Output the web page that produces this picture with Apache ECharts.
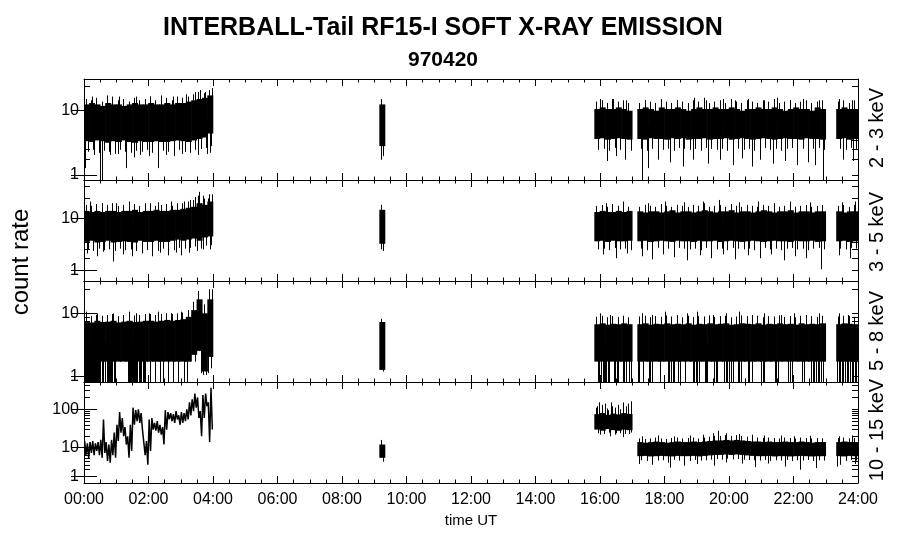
<!DOCTYPE html>
<html><head><meta charset="utf-8">
<script src="https://cdn.jsdelivr.net/npm/echarts@6/dist/echarts.min.js"></script>
<style>html,body{margin:0;padding:0;background:#fff}#c{width:900px;height:548px}</style>
</head><body><div id="c"></div>
<script>
const hourTicks = ['00:00','02:00','04:00','06:00','08:00','10:00','12:00','14:00','16:00','18:00','20:00','22:00','24:00'];
const panelNames = ['2 - 3 keV','3 - 5 keV','5 - 8 keV','10 - 15 keV'];
const titleText = 'INTERBALL-Tail RF15-I SOFT X-RAY EMISSION';
const dateText = '970420';
const majorLabels = [[1,10],[1,10],[1,10],[1,10,100]];

// Data coverage, in 10-minute bins (bin b = b*10 min .. (b+1)*10 min)
const binSegs = [[0,24],[55,56],[95,102],[103,138],[140,144]];
const binSegsP4 = [[55,56],[95,102],[103,138],[140,144]];

// For every covered bin: Hi/Lo = solid core of the dense trace, Up/Dn = reach of the fringe
const p1Hi = [12,12.5,12,11.5,12.5,12, 12,11.5,12,12.5,12,12, 12.5,12,12,12.5,12,12.5, 12.5,13,13.5,14,14.5,15.5,
  12,
  10.5,11,10.5,10.5,11,10.5,10,
  10.5,11,10.5,10,11,10.5,10.5, 11,10.5,10,10.5,11,10.5,10.5, 11,10.5,10.5,11,10.5,10,10.5, 10.5,11,10.5,10.5,11,10.5,10, 10.5,11,10.5,10.5,10,11,10.5,
  10.5,11,10.5,10.5];
const p1Lo = [3.9,3.8,4,3.9,3.7,3.9, 3.8,4,3.8,3.7,3.9,3.8, 3.8,3.9,3.8,3.8,3.9,4, 3.9,3.8,4,4.2,4.4,5,
  3.3,
  4.2,4.3,4.1,4.2,4.3,4.2,4.1,
  4.2,4.1,4.3,4.2,4.2,4.1,4.3, 4.2,4.3,4.1,4.2,4.2,4.3,4.1, 4.2,4.2,4.3,4.1,4.2,4.3,4.2, 4.1,4.2,4.3,4.2,4.1,4.2,4.3, 4.2,4.2,4.1,4.3,4.2,4.2,4.1,
  4.2,4.3,4.1,4.2];
const p1Up = [14,13.5,14.5,13,14,15, 13.5,14,13,14.5,13.5,14, 15,13.5,14,14.5,13.5,15, 14.5,15,16,17,16.5,18,
  14,
  13,13.5,12.5,14,13,13.5,12.5,
  12.5,13.5,13,12.5,14,13,12.5, 13.5,13,12.5,13.5,13,14.5,12.5, 13,13.5,12.5,14,13,12.5,13.5, 13,12.5,13.5,13,14,12.5,13, 13.5,12.5,13,13.5,12.5,13,13.5,
  13,13.5,12.5,13.5];
const p1Dn = [2.7,2.9,2.6,2.8,2.7,2.5, 2.9,2.7,2.6,2.8,2.7,2.9, 2.6,2.7,2.8,2.7,2.6,2.9, 2.7,2.8,2.9,3,3.1,3.3,
  2.3,
  2.9,3,2.8,3.1,2.9,3,2.8,
  3,2.8,3,3.1,2.9,3,2.8, 3.1,3,2.9,3,2.8,3.1,3, 2.9,3,2.8,3.1,3,2.9,3, 2.8,3,3.1,2.9,3,2.8,3, 3.1,2.9,3,2.8,3,3.1,2.9,
  3,2.9,3.1,3];
// isolated spikes [hour, count rate]
const p1Spikes = [[0.03,1.4],[0.3,2.4],[0.5,0.5],[0.57,0.5],[0.8,2.4],[1.05,2.5],[1.3,1.4],[1.55,2.2],[1.75,2.4],[2.0,2.3],[2.3,1.4],[2.55,2.4],[2.8,2.3],[3.05,2.5],[3.3,2.6],[3.55,2.4],[3.8,2.5],[3.92,2.6],
  [0.25,15],[0.7,15.5],[1.1,15],[1.6,15],[2.05,15],[2.4,15.5],[2.75,15],[3.15,16],[3.45,17],[3.6,18],[3.75,17],[3.98,19],
  [9.22,2.0],
  [16.21,1.9],[16.5,2.3],[16.78,2.0],[17.14,2.2],[17.29,0.5],[17.5,1.4],[17.81,2.0],[18.17,1.8],[18.58,1.5],[18.89,2.0],[19.36,1.7],[19.72,2.0],[20.13,1.6],[20.39,2.1],[20.7,1.5],[20.96,2.0],[21.37,1.7],[21.74,1.9],[22.1,1.6],[22.46,1.8],[22.67,1.6],[22.92,0.5],[23.54,2.0],[23.85,1.9],
  [16.0,14],[16.4,14],[16.8,13.5],[17.4,13.5],[17.9,14],[18.4,13.5],[18.9,14.5],[19.3,13.5],[19.8,14],[20.2,13.5],[20.6,14],[21.1,13.5],[21.5,14.5],[21.9,13.5],[22.3,14],[22.8,13.5],[23.4,14],[23.8,13.5]];

const p2Hi = [13,12.5,13,12.5,13,13, 12.5,13,13,13.5,12.5,13, 13,13.5,13,13,13.5,13.5, 14,14.5,15,17,16,18,
  13.5,
  12.5,13,12.5,12.5,13,12.5,13,
  12.8,12.3,12.8,12.8,12.3,12.8,13.3, 12.3,12.8,12.8,12.3,12.8,13.3,12.8, 12.3,12.8,12.8,13.3,12.3,12.8,12.8, 12.3,12.8,13.3,12.8,12.3,12.8,12.8, 13.3,12.3,12.8,12.8,12.3,12.8,12.8,
  12.8,12.3,12.8,12.8];
const p2Lo = [4.1,4.3,4,4.1,4.3,4, 4.1,4.2,4.1,4,4.3,4.1, 4.1,4.3,4.1,4.1,4.3,4.5, 4.3,4.5,4.7,4.3,4.9,5.1,
  3.8,
  4.2,4.3,4.1,4.3,4.2,4.2,4.3,
  4.2,4.3,4.1,4.2,4.3,4.2,4.1, 4.3,4.2,4.2,4.1,4.3,4.2,4.2, 4.3,4.1,4.2,4.3,4.2,4.1,4.2, 4.3,4.2,4.1,4.2,4.3,4.2,4.2, 4.1,4.3,4.2,4.2,4.3,4.1,4.2,
  4.2,4.3,4.1,4.2];
const p2Up = [16,15.5,16.5,15,16,17, 15.5,16,15,16.5,15.5,16, 17,15.5,16,16.5,15.5,17, 17,18,19,22,20,23,
  16,
  15.5,16,15,16.5,15.5,16,15,
  15,16,15.5,15,16.5,15.5,15, 16,15.5,15,16,15.5,17,15, 15.5,16,15,16.5,15.5,15,16, 15.5,15,16,15.5,16.5,15,15.5, 16,15,15.5,16,15,15.5,16,
  15.5,16,15,16];
const p2Dn = [3,2.8,3.1,2.9,3,2.8, 3.1,2.9,3,2.8,3.1,2.9, 3,2.8,3.1,3,2.9,3.2, 3.1,3.2,3.4,3.1,3.5,3.6,
  2.8,
  3,3.1,2.9,3.2,3,3.1,2.9,
  3.1,2.9,3.1,3.2,3,3.1,2.9, 3.2,3.1,3,3.1,2.9,3.2,3.1, 3,3.1,2.9,3.2,3.1,3,3.1, 2.9,3.1,3.2,3,3.1,2.9,3.1, 3.2,3,3.1,2.9,3.1,3.2,3,
  3.1,3,3.2,3.1];
const p2Spikes = [[0.1,2.5],[0.4,2.2],[0.6,2.7],[0.9,1.7],[1.2,2.4],[1.5,2.2],[1.8,2.5],[2.1,2.2],[2.35,2.6],[2.6,2.3],[2.85,2.6],[3.0,2.3],[3.25,2.6],[3.5,2.8],[3.7,3.0],[3.9,3.0],
  [0.2,18],[0.55,17],[1.0,17],[1.4,18],[1.9,17],[2.3,17.5],[2.7,18],[3.1,18],[3.3,19],[3.45,21],[3.57,25],[3.7,22],[3.85,20],[3.98,23],
  [9.22,3.0],[9.2,16],
  [16.1,2.4],[16.5,2.0],[16.85,2.5],[17.3,2.2],[17.6,1.9],[17.95,2.4],[18.3,2.1],[18.7,1.8],[19.1,2.3],[19.45,2.0],[19.8,2.4],[20.2,1.9],[20.6,2.3],[20.95,2.0],[21.3,2.4],[21.7,1.8],[22.05,2.2],[22.4,2.0],[22.85,1.1],[23.4,2.3],[23.75,2.0],
  [16.2,17],[16.7,18],[17.5,17],[18.0,18],[18.6,17.5],[19.2,18],[19.7,19],[20.3,17.5],[20.9,18],[21.4,17],[21.9,18],[22.5,17.5],[23.5,17.5],[23.9,18]];

const p3Hi = [7.8,7.6,8,7.7,7.8,8, 7.6,7.8,8,7.7,7.8,8, 8,7.8,8,8.2,8,8.2, 8.4,9,11,15,10,15,
  7.7,
  7.2,7.4,7.1,7.3,7.2,7.4,7.2,
  7.2,7.4,7.1,7.3,7.2,7.4,7.2, 7.3,7.2,7.4,7.1,7.3,7.2,7.4, 7.2,7.3,7.4,7.1,7.2,7.4,7.3, 7.2,7.4,7.1,7.3,7.2,7.4,7.2, 7.3,7.1,7.4,7.2,7.3,7.2,7.4,
  7.2,7.4,7.3,7.2];
const p3Lo = [2,2,2,2,2,2, 2,2,2,2,2,2, 2,2,2,2,2,2, 2,2,2.6,3,1.3,2.4,
  1.4,
  2,2,2,2,2,2,2,
  2,2,2,2,2,2,2, 2,2,2,2,2,2,2, 2,2,2,2,2,2,2, 2,2,2,2,2,2,2, 2,2,2,2,2,2,2,
  2,2,2,2];
const p3Up = [9.5,9.2,9.6,9.3,9.5,9.8, 9.2,9.5,9.8,9.4,9.5,9.8, 9.8,9.5,9.8,10,9.8,10, 10.2,11,14,19,13,20,
  8.5,
  9,9.3,8.9,9.2,9,9.3,8.9,
  9.1,9.3,8.9,9.2,9,9.4,9.1, 9.2,8.9,9.3,9,9.2,9.1,9.4, 9,9.2,9.3,8.9,9.1,9.4,9.2, 9,9.3,8.9,9.2,9.1,9.4,9, 9.2,8.9,9.3,9.1,9.2,9,9.3,
  9.1,9.3,9.2,9];
const p3Dn = [2,2,2,2,2,2, 2,2,2,2,2,2, 2,2,2,2,2,2, 2,2,2,1.2,1.1,1.5,
  1.3,
  2,2,2,2,2,2,2,
  2,2,2,2,2,2,2, 2,2,2,2,2,2,2, 2,2,2,2,2,2,2, 2,2,2,2,2,2,2, 2,2,2,2,2,2,2,
  2,2,2,2];
const p3Spikes = [[0.05,10.5],[0.4,10],[0.9,10],[1.4,10.5],[1.6,10],[2.0,10],[2.3,10.5],[2.7,10],[3.0,10.5],[3.55,19],[3.98,20],
  [0.02,0],[0.04,0],[0.06,0],[0.08,0],[0.1,0],[0.12,0],[0.14,0],[0.17,0],[0.2,0],[0.22,0],[0.25,0],[0.28,0],[0.3,0],[0.33,0],[0.36,0],[0.39,0],[0.42,0],[0.45,0],[0.47,0],[0.5,0],
  [0.55,0],[0.58,0],[0.6,0],[0.65,0],[0.7,0],[0.74,0],[0.78,0],[0.82,0],[0.85,0],[0.88,0],[0.92,0],[0.96,0],
  [1.35,0],[1.38,0],[1.42,0],[1.45,0],[1.48,0],[1.52,0],[1.55,0],[1.58,0],[1.6,0],[1.65,0],[1.7,0],[1.74,0],[1.78,0],[1.82,0],[1.85,0],[1.9,0],
  [2.05,0],[2.2,0],[2.35,0],[2.45,0],[2.6,0],[2.75,0],[2.9,0],[3.1,0],[3.2,0],[3.7,1.1],[3.85,1.2],
  [16.0,10],[16.3,9.5],[17.3,10],[17.6,9.5],[18.0,10.5],[18.4,9.5],[18.7,10],[19.0,10.5],[19.5,9.5],[19.9,10],[20.3,10.5],[20.7,9.5],[21.1,10],[21.6,9.5],[22.0,10],[22.4,9.5],[22.8,10],[23.4,10],[23.7,9.5],
  [15.93,0],[15.96,0],[15.98,0],[16.03,0],[16.08,0],[16.12,0],[16.16,0],[16.2,0],[16.24,0],[16.28,0],[16.43,0],[16.47,0],[16.52,0],[16.56,0],[16.7,0],[16.74,0],[16.8,0],[16.9,0],[16.95,0],
  [17.18,0],[17.22,0],[17.34,0],[17.52,0],[17.56,0],[17.6,0],[17.86,0],
  [18.1,0],[18.14,0],[18.2,0],[18.25,0],[18.3,0],[18.43,0],[18.47,0],[18.64,0],[18.88,0],[18.93,0],[18.97,0],[19.02,0],[19.06,0],[19.25,0],[19.29,0],[19.33,0],[19.55,0],[19.6,0],[19.64,0],
  [19.86,0],[19.9,0],[19.95,0],[20.0,0],[20.05,0],[20.12,0],[20.28,0],[20.32,0],[20.36,0],[20.58,0],[20.63,0],[20.7,0],[21.0,0],[21.05,0],[21.1,0],[21.42,0],[21.47,0],[21.52,0],
  [21.82,0],[21.88,0],[21.94,0],[22.25,0],[22.32,0],[22.55,0],[22.6,0],[22.65,0],[22.7,0],[22.75,0],[22.8,0],[22.85,0],[22.9,0],
  [23.3,0],[23.35,0],[23.4,0],[23.45,0],[23.5,0],[23.55,0],[23.6,0],[23.65,0],[23.7,0],[23.75,0],[23.8,0],[23.85,0],[23.9,0],[23.95,0]];

const p4Hi = [12,
  75,80,72,78,74,80,76,
  14,13.5,14,14.5,14,13.5,14, 14.5,14,14,14.5,14,14.5,15, 15.5,15.5,16,15.5,16,15.5,15, 14.5,14.5,14,14.5,14,14,14.5, 14,14,14.5,14,13.5,14,14,
  14,14.5,14,14];
const p4Lo = [5,
  30,28,31,29,28,30,29,
  5.6,5.7,5.5,5.6,5.7,5.6,5.5, 5.7,5.6,5.6,5.7,5.5,5.7,5.9, 6.1,6.1,6.3,6.1,6.3,6.1,5.9, 5.7,5.6,5.6,5.7,5.5,5.6,5.6, 5.5,5.6,5.7,5.6,5.5,5.6,5.6,
  5.6,5.5,5.7,5.6];
const p4Up = [16,
  110,130,105,120,110,135,115,
  17.5,17,17.5,18.5,17.5,17,18, 18.5,17.5,18,18.5,17.5,18.5,19.5, 20.5,20.5,21.5,20.5,21.5,20.5,19.5, 18.5,18.5,18,18.5,18,17.5,18.5, 18,17.5,18.5,18,17.5,18,17.5,
  18,18.5,17.5,18];
const p4Dn = [3.8,
  24,23,25,22,24,23,25,
  4.2,4,4.3,4.1,4.2,4,4.3, 4.1,4.2,4,4.3,4.1,4.2,4.4, 4.6,4.4,4.7,4.5,4.6,4.4,4.3, 4.2,4.1,4.3,4,4.2,4.1,4.3, 4,4.2,4.1,4.3,4,4.2,4.1,
  4.2,4,4.3,4.1];
const p4Spikes = [[15.9,120],[15.97,150],[16.05,100],[16.15,140],[16.25,95],[16.33,150],[16.45,110],[16.55,130],[16.62,100],[16.72,150],[16.8,120],[16.88,140],[16.95,160],
  [16.0,22],[16.3,20],[16.5,24],[16.7,19],[16.9,23],
  [17.3,20],[17.8,21],[18.3,20],[18.8,21],[19.2,22],[19.5,24],[19.65,28],[19.9,24],[20.3,23],[20.7,22],[21.1,21],[21.6,21],[22.0,20],[22.5,20.5],[23.4,20],[23.8,21],
  [17.2,3.2],[17.6,3.0],[18.1,3.5],[18.17,2.4],[18.6,2.8],[19.0,3.2],[19.55,2.8],[19.9,3.6],[20.4,3.3],[20.8,2.5],[21.2,3.3],[21.75,2.6],[22.2,2.0],[22.7,2.3],[23.35,2.6],[23.45,3.0],[23.9,3.2]];
// 10-15 keV, 00:00-04:00 in 5-minute steps: high and low of each step
const p4LineHi = [15,13,14,15,13,14, 16,55,14,12,16,25, 40,85,60,35,20,40, 110,95,100,80,30,15, 55,60,45,50,40,35, 95,85,80,75,90,70, 85,80,100,150,180,250, 200,90,230,250,150,350];
const p4LineLo = [6,5,7,6,8,6, 5,7,4,3.5,6,5, 15,25,20,12,5,8, 40,50,45,30,6,3, 8,30,28,25,22,12, 30,55,50,45,55,40, 45,50,55,70,90,110, 60,20,60,120,14,30];

const BIN = 1/6, STEP = 1/12;
const f = v => Math.log10(Math.max(v, 0) + 1);
const FONT = '"Liberation Sans", Arial, sans-serif';
const gridTops = [79, 180, 281, 382];
const yRanges = [[0.2434,1.4064],[0.1555,1.5826],[0.2391,1.4186],[0.1418,2.6942]];
const panels = [
  {segs:binSegs, hi:p1Hi, lo:p1Lo, up:p1Up, dn:p1Dn, sp:p1Spikes},
  {segs:binSegs, hi:p2Hi, lo:p2Lo, up:p2Up, dn:p2Dn, sp:p2Spikes},
  {segs:binSegs, hi:p3Hi, lo:p3Lo, up:p3Up, dn:p3Dn, sp:p3Spikes},
  {segs:binSegsP4, hi:p4Hi, lo:p4Lo, up:p4Up, dn:p4Dn, sp:p4Spikes}];

function binList(segs){ const a=[]; segs.forEach(([s,e])=>{ for(let b=s;b<e;b++) a.push(b); }); return a; }
function bandData(p){ return binList(p.segs).map((b,i)=>[b*BIN,(b+1)*BIN,f(p.lo[i]),f(p.hi[i]),f(p.dn[i]),f(p.up[i])]); }
function spikeData(p){ const bins=binList(p.segs);
  return p.sp.map(([h,v])=>{ const i=bins.indexOf(Math.floor(h/BIN)); const mid = i>=0 ? (f(p.hi[i])+f(p.lo[i]))/2 : f(v); return [h,f(v),mid]; }); }
function tickVals(min,max){ const a=[]; for(let d=1; d<=1000; d*=10) for(let m=1;m<=9;m++){ const t=f(m*d); if(t>=min&&t<=max) a.push(t);} return a; }

const grids=[], xAxes=[], yAxes=[], series=[];
const lineC = '#000';
for (let g=0; g<4; g++){
  grids.push({left:84, right:42, top:gridTops[g], height:101});
  const [mn,mx] = yRanges[g];
  const majors = majorLabels[g].map(f);
  const minors = tickVals(mn,mx);
  for (const pos of ['bottom','top']){
    xAxes.push({gridIndex:g, type:'value', position:pos, min:0, max:24, interval:2,
      axisLine:{onZero:false, lineStyle:{color:lineC,width:1}},
      axisTick:{inside:true, length:7, lineStyle:{color:lineC}},
      minorTick:{show:true, splitNumber:4, length:3.5, lineStyle:{color:lineC}},
      splitLine:{show:false},
      axisLabel:{show: g===3 && pos==='bottom', margin:9, color:'#000', fontFamily:FONT, fontSize:16,
        formatter: v => hourTicks[Math.round(v/2)]}});
  }
  for (const pos of ['left','right']){
    yAxes.push({gridIndex:g, type:'value', position:pos, min:mn, max:mx,
      axisLine:{show:true, onZero:false, lineStyle:{color:lineC,width:1}},
      axisTick:{show:true, inside:true, length:6, customValues:minors, lineStyle:{color:lineC}},
      splitLine:{show:false},
      axisLabel:{show: pos==='left', customValues:majors, margin:5, color:'#000', fontFamily:FONT, fontSize:16,
        formatter: v => String(Math.round(Math.pow(10,v)-1))}});
    yAxes.push({gridIndex:g, type:'value', position:pos, min:mn, max:mx,
      axisLine:{show:false},
      axisTick:{show:true, inside:true, length:13, customValues:majors, lineStyle:{color:lineC}},
      splitLine:{show:false}, axisLabel:{show:false}});
  }
  const xi = 2*g, yi = 4*g;
  series.push({type:'custom', xAxisIndex:xi, yAxisIndex:yi, clip:true, silent:true, animation:false,
    data: bandData(panels[g]),
    renderItem:(p,api)=>{
      const x0=api.value(0), x1=api.value(1);
      const a=api.coord([x0,api.value(3)]); const b=api.coord([x1,api.value(2)]);
      const u=api.coord([x0+(x1-x0)*0.3,api.value(5)]); const d=api.coord([x0+(x1-x0)*0.7,api.value(4)]);
      const ux=Math.round(u[0])+0.5, dx=Math.round(d[0])+0.5;
      return {type:'group', children:[
        {type:'rect', shape:{x:a[0]-0.3, y:a[1], width:b[0]-a[0]+0.6, height:b[1]-a[1]}, style:{fill:'#000'}},
        {type:'line', shape:{x1:ux, y1:u[1], x2:ux, y2:a[1]+1}, style:{stroke:'#000', lineWidth:1}},
        {type:'line', shape:{x1:dx, y1:d[1], x2:dx, y2:b[1]-1}, style:{stroke:'#000', lineWidth:1}}
      ]}; }});
  series.push({type:'custom', xAxisIndex:xi, yAxisIndex:yi, clip:true, silent:true, animation:false,
    data: spikeData(panels[g]),
    renderItem:(p,api)=>{ const a=api.coord([api.value(0),api.value(1)]); const b=api.coord([api.value(0),api.value(2)]);
      const x=Math.round(a[0])+0.5;
      return {type:'line', shape:{x1:x, y1:a[1], x2:x, y2:b[1]}, style:{stroke:'#000', lineWidth:1}}; }});
}
const lineData=[];
p4LineHi.forEach((h,k)=>{ lineData.push([k*STEP+STEP*0.25, f(h)]); lineData.push([k*STEP+STEP*0.75, f(p4LineLo[k])]); });
series.push({type:'line', xAxisIndex:6, yAxisIndex:12, data:lineData, showSymbol:false, symbol:'none', clip:true, animation:false,
  lineStyle:{color:'#000', width:1.5}});

const graphic = [
  {type:'text', x:443, y:28, style:{text:titleText, font:'bold 25px '+FONT, fill:'#000', align:'center', verticalAlign:'middle'}},
  {type:'text', x:443, y:60, style:{text:dateText, font:'bold 21px '+FONT, fill:'#000', align:'center', verticalAlign:'middle'}},
  {type:'text', x:21, y:262, rotation:Math.PI/2, style:{text:'count rate', font:'24px '+FONT, fill:'#000', align:'center', verticalAlign:'middle'}},
  {type:'text', x:471, y:521, style:{text:'time UT', font:'15px '+FONT, fill:'#000', align:'center', verticalAlign:'middle'}}
];
const labelY = [128, 232, 331, 430];
panelNames.forEach((n,i)=>graphic.push({type:'text', x:877, y:labelY[i], rotation:Math.PI/2,
  style:{text:n, font:'20px '+FONT, fill:'#000', align:'center', verticalAlign:'middle'}}));

const chart = echarts.init(document.getElementById('c'), null, {renderer:'canvas'});
chart.setOption({animation:false, backgroundColor:'#fff', grid:grids, xAxis:xAxes, yAxis:yAxes, series, graphic});
</script></body></html>
